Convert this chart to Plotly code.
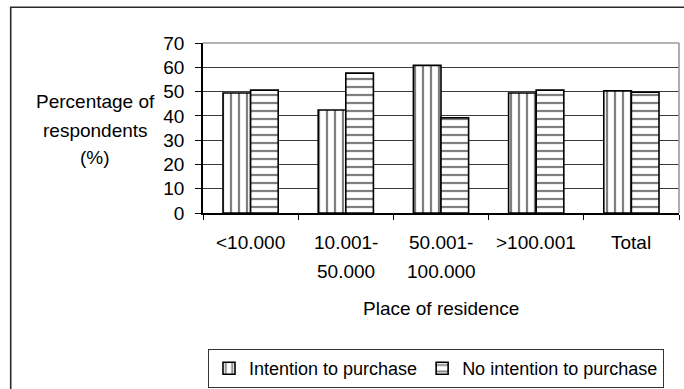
import plotly.graph_objects as go

# Survey: purchase intention by place of residence (% of respondents)
categories = ["<10.000", "10.001-\n50.000", "50.001-\n100.000", ">100.001", "Total"]
intention = [49.4, 42.4, 60.8, 49.4, 50.3]
no_intention = [50.6, 57.6, 39.2, 50.6, 49.7]
y_ticks = [0, 10, 20, 30, 40, 50, 60, 70]
y_title_lines = ["Percentage of", "respondents", "(%)"]
x_title = "Place of residence"
series_names = ["Intention to purchase", "No intention to purchase"]

W, H = 684, 389
L, R, T, B = 203, 5, 43, 176
plot_w = W - L - R
plot_h = H - T - B
FONT = "Liberation Sans, Arial, sans-serif"
FS = 19

cat_keys = [c.replace("\n", " ") for c in categories]


def px_x(p):
    return (p - L) / plot_w


def px_y(p):
    return (H - B - p) / plot_h


fig = go.Figure()
for name, vals, shape in [(series_names[0], intention, "|"),
                          (series_names[1], no_intention, "-")]:
    fig.add_trace(go.Bar(
        x=cat_keys, y=vals, name=name,
        marker=dict(color="white",
                    line=dict(color="black", width=1.6),
                    pattern=dict(shape=shape, fgcolor="black", bgcolor="white",
                                 size=8, solidity=0.28, fillmode="overlay")),
    ))

annotations = []
# category labels, one annotation per text line
for key, label in zip(cat_keys, categories):
    for i, line in enumerate(label.split("\n")):
        annotations.append(dict(x=key, xref="x", y=0, yref="paper",
                                yshift=-29 - 29 * i, yanchor="middle",
                                text=line, showarrow=False,
                                font=dict(family=FONT, size=FS, color="black")))
# y-axis title lines
for line, yc in zip(y_title_lines, [101.7, 130, 157.7]):
    annotations.append(dict(x=px_x(95), xref="paper", y=px_y(yc), yref="paper",
                            xanchor="center", yanchor="middle", text=line,
                            showarrow=False,
                            font=dict(family=FONT, size=FS, color="black")))
# x-axis title
annotations.append(dict(x=0.5, xref="paper", y=px_y(308), yref="paper",
                        xanchor="center", yanchor="middle", text=x_title,
                        showarrow=False,
                        font=dict(family=FONT, size=FS, color="black")))

shapes = [
    # outer chart frame
    dict(type="rect", xref="paper", yref="paper",
         x0=px_x(10.7), x1=px_x(700), y0=px_y(400), y1=px_y(7.3),
         line=dict(color="#2a2a2a", width=1.6), layer="below"),
    # plot-area border (top and right)
    dict(type="line", xref="paper", yref="paper", x0=0, x1=1, y0=1, y1=1,
         line=dict(color="#9a9a9a", width=1.6), layer="above"),
    dict(type="line", xref="paper", yref="paper", x0=1, x1=1, y0=0, y1=1,
         line=dict(color="#9a9a9a", width=1.6), layer="above"),
]

fig.update_layout(
    width=W, height=H,
    margin=dict(l=L, r=R, t=T, b=B, autoexpand=False),
    paper_bgcolor="white", plot_bgcolor="white",
    barmode="group", bargap=0.42, bargroupgap=0,
    font=dict(family=FONT, size=FS, color="black"),
    showlegend=True,
    legend=dict(orientation="h", x=px_x(208), xanchor="left",
                y=px_y(349), yanchor="top",
                bordercolor="#333333", borderwidth=1, bgcolor="white",
                font=dict(family=FONT, size=18, color="black"),
                itemwidth=30, tracegroupgap=0),
    annotations=annotations,
    shapes=shapes,
)
fig.update_xaxes(type="category", showticklabels=False,
                 showline=True, linecolor="black", linewidth=1.5,
                 ticks="outside", tickson="boundaries", ticklen=5,
                 tickcolor="black", tickwidth=1.2, showgrid=False,
                 zeroline=False)
fig.update_yaxes(range=[0, 70], tickvals=y_ticks, showline=True,
                 linecolor="black", linewidth=1.5, ticks="outside",
                 ticklen=6, tickcolor="black", tickwidth=1.2,
                 showgrid=True, gridcolor="#3a3a3a", gridwidth=1.2,
                 zeroline=False, ticklabelstandoff=7,
                 tickfont=dict(family=FONT, size=FS, color="black"))

fig.write_html("out.html")
